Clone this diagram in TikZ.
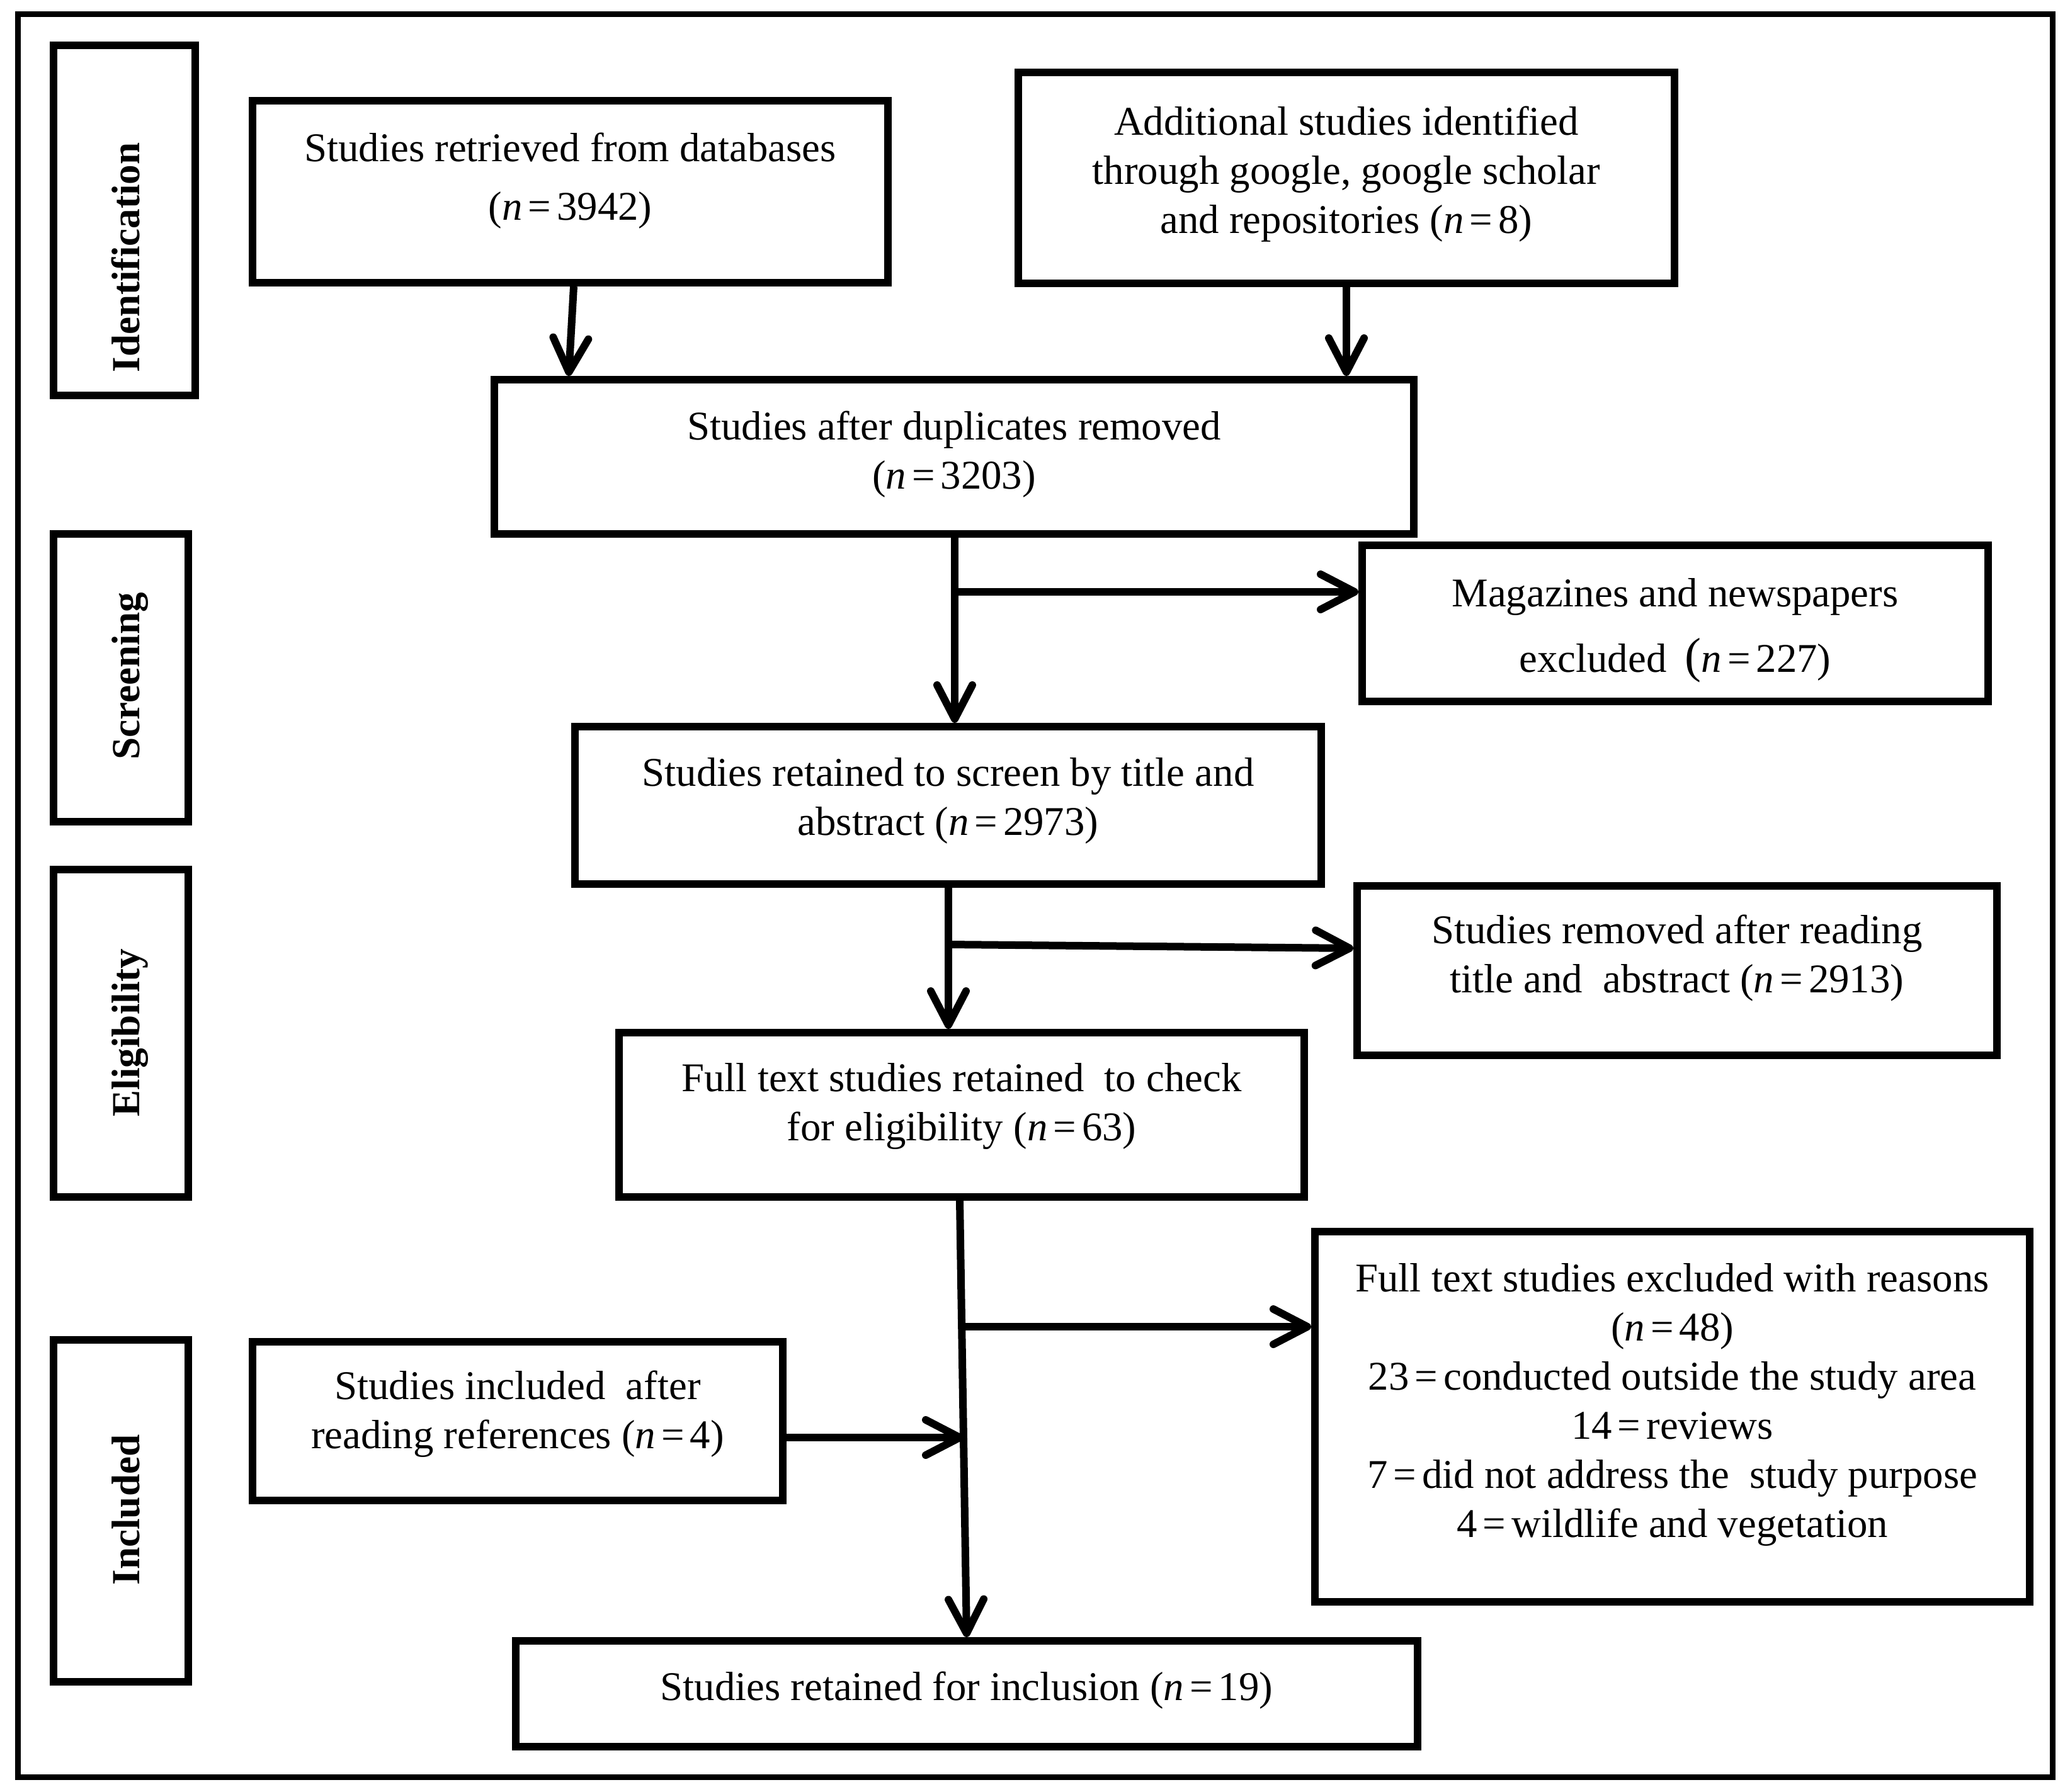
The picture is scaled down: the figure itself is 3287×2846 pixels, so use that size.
\documentclass[tikz,border=0pt]{standalone}
\def\fontchoice{0}
\IfFileExists{t1ppl.fd}{\IfFileExists{pplr8t.tfm}{\def\fontchoice{1}}{}}{}
\ifnum\fontchoice=1
  \usepackage[T1]{fontenc}
  \renewcommand{\rmdefault}{ppl}
  \def\bsz{14.8pt}\def\lsz{14.8pt}
\else
  \usepackage{fontspec}
  \setmainfont{Liberation Serif}
  \def\bsz{16.2pt}\def\lsz{15.8pt}
\fi
\newcommand{\myeq}{\hspace{0.14em}=\hspace{0.14em}}
\usetikzlibrary{arrows.meta,calc}
\begin{document}
\begin{tikzpicture}[x=0.25pt,y=-0.25pt,
  bx/.style n args={2}{draw,line width=3pt,minimum width=#1*0.25pt,minimum height=#2*0.25pt,inner sep=0pt},
  txt/.style={align=center,inner sep=0pt,font=\fontsize{\bsz}{19.5pt}\selectfont},
  lab/.style={rotate=90,anchor=base,inner sep=0pt,font=\fontsize{\lsz}{18pt}\selectfont\bfseries},
  arr/.style={line width=3pt,-{Straight Barb[length=13.5pt,width=14pt,line cap=round,line join=round]}}]
\fill[white] (0,0) rectangle (3287,2846);
\useasboundingbox (0,0) rectangle (3287,2846);
\draw[line width=2.25pt] (28,23) rectangle (3259,2822);
% stage labels
\node[bx={225}{556}] (L1) at (197.5,350) {};
\node[bx={214}{457}] (L2) at (192,1076.5) {};
\node[bx={214}{520}] (L3) at (192,1641) {};
\node[bx={214}{543}] (L4) at (192,2399.5) {};
\node[lab] (L1t) at (221,409) {Identification};
\node[lab] (L2t) at (221,1074) {Screening};
\node[lab] (L3t) at (221,1640) {Eligibility};
\node[lab] (L4t) at (221,2398) {Included};
% boxes
\node[bx={1009}{289}] (B1) at (905.5,304.5) {};
\node[bx={1042}{335}] (B2) at (2138,282.5) {};
\node[bx={1460}{245}] (B3) at (1515,725.5) {};
\node[bx={994}{248}] (B4) at (2660,990) {};
\node[bx={1185}{250}] (B5) at (1505.5,1279) {};
\node[bx={1016}{269}] (B6) at (2663,1541.5) {};
\node[bx={1088}{261}] (B7) at (1527,1770.5) {};
\node[bx={1135}{588}] (B8) at (2655.5,2250) {};
\node[bx={842}{252}] (B9) at (822,2257) {};
\node[bx={1432}{168}] (B10) at (1535,2690) {};
% texts
\node[txt,font=\fontsize{\bsz}{23.25pt}\selectfont] (T1) at (B1.center |- 0,287) {Studies retrieved from databases\\(\textit{n}\myeq 3942)};
\node[txt] (T2) at (B2.center |- 0,277) {Additional studies identified\\through google, google scholar\\and repositories (\textit{n}\myeq 8)};
\node[txt] (T3) at (B3.center |- 0,722) {Studies after duplicates removed\\(\textit{n}\myeq 3203)};
\node[txt] (T4) at (B4.center |- 0,1001) {Magazines and newspapers\\[6.5pt]excluded\hspace{0.45em}{\fontsize{19.5pt}{19.5pt}\selectfont(}\textit{n}\myeq 227)};
\node[txt] (T5) at (B5.center |- 0,1272) {Studies retained to screen by title and\\abstract (\textit{n}\myeq 2973)};
\node[txt] (T6) at (B6.center |- 0,1522) {Studies removed after reading\\title and\ \ abstract (\textit{n}\myeq 2913)};
\node[txt] (T7) at (B7.center |- 0,1757) {Full text studies retained\ \ to check\\for eligibility (\textit{n}\myeq 63)};
\node[txt] (T8) at (B8.center |- 0,2231) {Full text studies excluded with reasons\\(\textit{n}\myeq 48)\\23\myeq conducted outside the study area\\14\myeq reviews\\7\myeq did not address the\ \ study purpose\\4\myeq wildlife and vegetation};
\node[txt] (T9) at (B9.center |- 0,2246) {Studies included\ \ after\\reading references (\textit{n}\myeq 4)};
\node[txt] (T10) at (B10.center |- 0,2685) {Studies retained for inclusion (\textit{n}\myeq 19)};
% connectors
\draw[arr] (911,0 |- B1.south) -- (903,0 |- B3.north);
\draw[arr] (B2.south) -- (B2.south |- B3.north);
\draw[arr] (1516,0 |- B3.south) -- (1516,0 |- B5.north);
\coordinate (j1) at (1516,940);
\draw[arr] (j1) -- (j1 -| B4.west);
\draw[arr] (1506,0 |- B5.south) -- (1506,0 |- B7.north);
\coordinate (j2) at (1506,1500);
\draw[arr] (j2) -- (B6.west |- 0,1506);
\draw[arr] (1524,0 |- B7.south) -- (B10.north);
\coordinate (j3) at (1527,2107);
\draw[arr] (j3) -- (j3 -| B8.west);
\coordinate (j4) at (1530,2283);
\draw[arr] (j4 -| B9.east) -- (j4);
\end{tikzpicture}
\end{document}
